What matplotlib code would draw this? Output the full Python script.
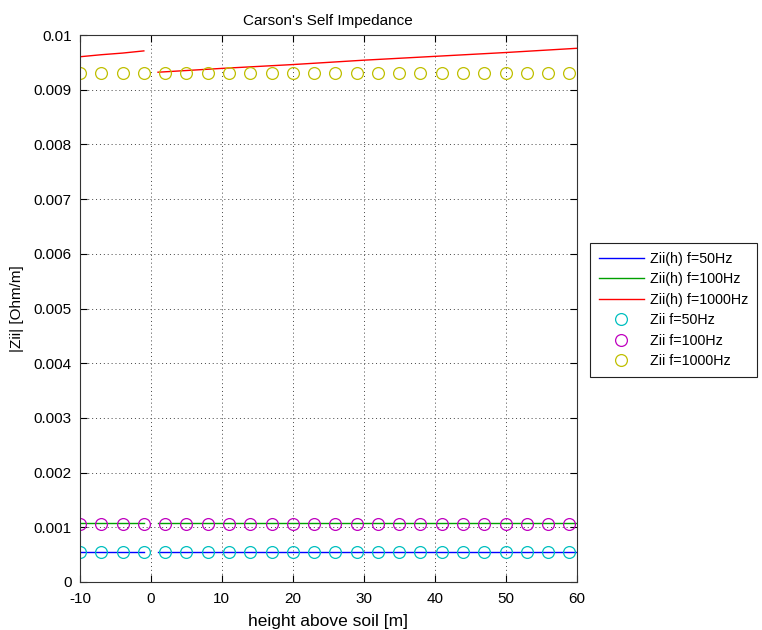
import numpy as np
import matplotlib
matplotlib.use("Agg")
import matplotlib.pyplot as plt

# line data (gap at h = 0)
h_line = [-10, -7, -4, -1, np.nan, 1, 10, 20, 30, 40, 50, 60]
z50_line = [0.000555, 0.000555, 0.000555, 0.000555, np.nan, 0.000554, 0.000554, 0.000554, 0.000554, 0.000554, 0.000554, 0.000554]
z100_line = [0.00108, 0.00108, 0.00108, 0.00108, np.nan, 0.00107, 0.00107, 0.00107, 0.00107, 0.00107, 0.00107, 0.00107]
z1000_line = [0.009603, 0.00964, 0.00967, 0.00971, np.nan, 0.00932, 0.00939, 0.00946, 0.00954, 0.00961, 0.00968, 0.009757]

# marker data
h_pts = [-10, -7, -4, -1, 2, 5, 8, 11, 14, 17, 20, 23, 26, 29, 32, 35, 38, 41, 44, 47, 50, 53, 56, 59]
z50_pts = [0.000554, 0.000554, 0.000554, 0.000554, 0.000554, 0.000554, 0.000554, 0.000554,
           0.000554, 0.000554, 0.000554, 0.000554, 0.000554, 0.000554, 0.000554, 0.000554,
           0.000554, 0.000554, 0.000554, 0.000554, 0.000554, 0.000554, 0.000554, 0.000554]
z100_pts = [0.00106, 0.00106, 0.00106, 0.00106, 0.00106, 0.00106, 0.00106, 0.00106,
            0.00106, 0.00106, 0.00106, 0.00106, 0.00106, 0.00106, 0.00106, 0.00106,
            0.00106, 0.00106, 0.00106, 0.00106, 0.00106, 0.00106, 0.00106, 0.00106]
z1000_pts = [0.00931, 0.00931, 0.00931, 0.00931, 0.00931, 0.00931, 0.00931, 0.00931,
             0.00931, 0.00931, 0.00931, 0.00931, 0.00931, 0.00931, 0.00931, 0.00931,
             0.00931, 0.00931, 0.00931, 0.00931, 0.00931, 0.00931, 0.00931, 0.00931]

xticks = [-10, 0, 10, 20, 30, 40, 50, 60]
yticks = [0, 0.001, 0.002, 0.003, 0.004, 0.005, 0.006, 0.007, 0.008, 0.009, 0.01]
ytick_labels = ["0", "0.001", "0.002", "0.003", "0.004", "0.005", "0.006", "0.007", "0.008", "0.009", "0.01"]

plt.rcParams['font.family'] = ['Liberation Sans', 'DejaVu Sans']
plt.rcParams['font.size'] = 11
plt.rcParams['axes.unicode_minus'] = False

fig = plt.figure(figsize=(7.62, 6.30), dpi=100)
ax = fig.add_axes([0.105, 0.0762, 0.6516, 0.8682])

ax.plot(h_line, z50_line, color='#0000ff', lw=1, label='Zii(h) f=50Hz')
ax.plot(h_line, z100_line, color='#00a000', lw=1, label='Zii(h) f=100Hz')
ax.plot(h_line, z1000_line, color='#ff0000', lw=1, label='Zii(h) f=1000Hz')
ms = 8.5
ax.plot(h_pts, z50_pts, 'o', mfc='none', mec='#00bfbf', ms=ms, mew=0.9, label='Zii f=50Hz')
ax.plot(h_pts, z100_pts, 'o', mfc='none', mec='#bf00bf', ms=ms, mew=0.9, label='Zii f=100Hz')
ax.plot(h_pts, z1000_pts, 'o', mfc='none', mec='#bfbf00', ms=ms, mew=0.9, label='Zii f=1000Hz')

ax.set_xlim(-10, 60)
ax.set_ylim(0, 0.01)
ax.set_xticks(xticks)
ax.set_yticks(yticks)
ax.set_yticklabels(ytick_labels)
ax.tick_params(direction='in', top=True, right=True, length=5, width=0.8)
ax.tick_params(axis='x', pad=7)
ax.tick_params(axis='y', pad=6)
ax.grid(True, linestyle=(0, (1, 3)), color='#444444', lw=0.7)
for s in ax.spines.values():
    s.set_color('#333333')
    s.set_linewidth(0.8)

ax.set_title("Carson's Self Impedance", fontsize=11, pad=7)
ax.set_xlabel("height above soil [m]", fontsize=12.5, labelpad=6)
ax.set_ylabel("|Zii| [Ohm/m]", fontsize=11, labelpad=7)

leg = fig.legend(loc='center left', bbox_to_anchor=(0.7743, 0.508), borderaxespad=0,
                 fontsize=10.3, frameon=True, fancybox=False, edgecolor='#222222', framealpha=1,
                 handlelength=3.2, handletextpad=0.4, borderpad=0.6, labelspacing=0.45)
leg.get_frame().set_linewidth(0.8)

fig.savefig("out.png", dpi=100)
